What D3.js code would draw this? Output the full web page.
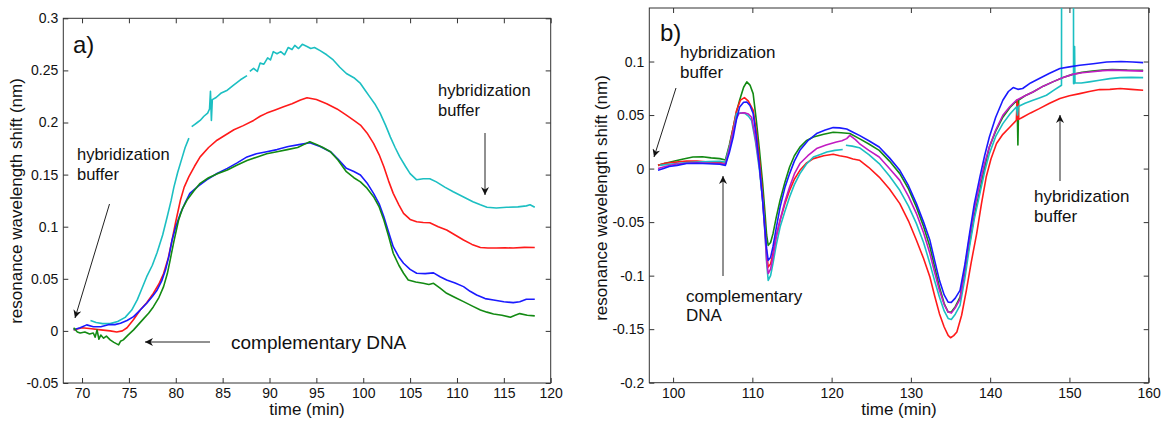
<!DOCTYPE html>
<html>
<head>
<meta charset="utf-8">
<script src="https://cdn.jsdelivr.net/npm/d3@7"></script>
<style>
	body { margin: 0; background: #fff; }
	text { font-family: "Liberation Sans", Arial, sans-serif; fill: #111; }
</style>
</head>
<body>
<script>

// ---- panel a) data: [time (min), shift (nm)], null = gap in trace
var aCyan = [[70.9,0.010],[71.5,0.008],[72.2,0.007],[73.0,0.007],[73.8,0.009],[74.6,0.013],[75.3,0.02],[75.9,0.030],[76.4,0.041],[76.9,0.052],[77.5,0.063],[78.0,0.075],[78.6,0.092],[79.1,0.110],[79.5,0.125],[79.8,0.138],[80.2,0.152],[80.7,0.167],[81.0,0.176],[81.4,0.185],[81.55,null],
	[81.7,0.196],[82.0,0.198],[82.3,0.200],[82.6,0.202],[83.0,0.206],[83.4,0.209],[83.6,0.213],[83.7,0.230],[83.8,0.202],[83.9,0.222],[84.3,0.224],[84.8,0.228],[85.5,0.231],[86.2,0.236],[86.9,0.241],[87.6,0.245],[87.7,null],
	[87.9,0.249],[88.3,0.252],[88.7,0.249],[89.0,0.257],[89.4,0.256],[89.8,0.262],[90.1,0.260],[90.4,0.268],[90.8,0.266],[91.2,0.268],[91.6,0.265],[92.0,0.272],[92.4,0.270],[92.7,0.274],[93.1,0.271],[93.5,0.275],[94.0,0.273],[94.4,0.271],[94.8,0.272],[95.4,0.269],[96.1,0.265],[96.8,0.260],[97.5,0.253],[98.2,0.247],[99.0,0.243],[99.7,0.2375],[100.2,0.231],[100.7,0.2246],[101.3,0.217],[101.8,0.209],[102.4,0.197],[102.9,0.186],[103.4,0.176],[103.9,0.167],[104.5,0.158],[105.0,0.151],[105.7,0.145],[106.4,0.146],[107.1,0.146],[107.8,0.143],[108.7,0.138],[109.6,0.1336],[110.6,0.129],[111.7,0.124],[112.5,0.121],[113.2,0.1186],[114.2,0.118],[115.3,0.1186],[116.5,0.119],[117.4,0.120],[117.8,0.121],[118.3,0.1186]];
var aRed = [[69.1,0.001],[70.0,0.003],[71.0,0.002],[72.0,0.001],[73.0,0.000],[73.7,-0.001],[74.3,0.000],[74.8,0.003],[75.5,0.011],[76.2,0.020],[76.9,0.027],[77.6,0.036],[78.2,0.045],[78.7,0.055],[79.2,0.070],[79.6,0.087],[80.0,0.105],[80.5,0.1256],[80.9,0.138],[81.4,0.148],[82.0,0.158],[82.6,0.167],[83.5,0.176],[84.4,0.183],[85.3,0.188],[86.2,0.193],[87.2,0.197],[88.3,0.202],[89.0,0.206],[89.7,0.209],[90.6,0.212],[91.5,0.215],[92.4,0.218],[93.3,0.2215],[94.0,0.2237],[95.0,0.222],[96.1,0.218],[97.2,0.213],[98.2,0.207],[99.0,0.202],[99.7,0.1975],[100.4,0.190],[101.1,0.180],[101.7,0.169],[102.2,0.1575],[102.7,0.144],[103.2,0.132],[103.8,0.121],[104.3,0.1128],[105.0,0.107],[105.7,0.1048],[106.4,0.104],[107.1,0.1038],[108.0,0.100],[108.9,0.0968],[109.8,0.092],[110.7,0.0872],[111.6,0.083],[112.5,0.080],[113.3,0.0795],[114.2,0.0795],[115.1,0.0798],[116.0,0.0795],[117.2,0.0802],[118.3,0.080]];
var aBlue = [[69.1,0.001],[69.8,0.003],[70.5,0.0058],[71.2,0.004],[72.0,0.004],[72.8,0.006],[73.5,0.006],[74.1,0.0074],[74.8,0.010],[75.5,0.0137],[76.2,0.020],[76.9,0.0266],[77.5,0.033],[78.0,0.039],[78.5,0.048],[78.9,0.0585],[79.3,0.073],[79.6,0.087],[80.0,0.100],[80.5,0.1128],[81.0,0.123],[81.5,0.132],[82.4,0.139],[83.3,0.145],[84.4,0.151],[85.5,0.156],[86.5,0.161],[87.6,0.167],[88.6,0.170],[89.7,0.172],[90.8,0.174],[92.0,0.177],[93.3,0.179],[94.3,0.1805],[95.4,0.177],[96.5,0.172],[97.3,0.165],[98.2,0.156],[99.0,0.153],[99.7,0.1496],[100.4,0.142],[101.1,0.132],[101.7,0.122],[102.2,0.1096],[102.7,0.095],[103.2,0.0808],[103.8,0.071],[104.3,0.0649],[105.0,0.059],[105.7,0.0553],[106.6,0.055],[107.5,0.0557],[108.2,0.052],[108.9,0.0489],[109.8,0.046],[110.7,0.0425],[111.4,0.038],[112.1,0.0345],[113.0,0.031],[113.9,0.0297],[115.0,0.028],[116.0,0.0271],[116.7,0.028],[117.4,0.0304],[118.3,0.0304]];
var aGreen = [[69.1,0.003],[69.5,-0.001],[69.8,-0.002],[70.3,-0.001],[70.8,-0.003],[71.2,-0.002],[71.4,-0.006],[71.6,0.001],[71.8,-0.008],[72.0,-0.004],[72.3,-0.007],[72.6,-0.005],[73.0,-0.0086],[73.4,-0.011],[73.9,-0.0134],[74.1,-0.010],[74.4,-0.0086],[74.9,-0.004],[75.5,0.001],[76.0,0.006],[76.6,0.012],[77.1,0.017],[77.6,0.023],[78.2,0.032],[78.7,0.0425],[79.1,0.055],[79.4,0.068],[79.8,0.086],[80.3,0.1064],[80.7,0.117],[81.2,0.1256],[81.9,0.134],[82.6,0.1416],[83.5,0.147],[84.5,0.151],[85.5,0.1545],[86.5,0.159],[87.6,0.1635],[88.7,0.167],[89.7,0.170],[90.8,0.172],[91.9,0.174],[93.0,0.176],[93.7,0.179],[94.3,0.1815],[95.0,0.179],[95.7,0.176],[96.5,0.172],[97.3,0.164],[98.2,0.1528],[99.0,0.147],[99.7,0.143],[100.4,0.137],[101.1,0.1288],[101.7,0.119],[102.2,0.1064],[102.7,0.091],[103.2,0.0745],[103.8,0.063],[104.3,0.0553],[104.8,0.0489],[105.6,0.047],[106.4,0.0457],[107.0,0.0445],[107.5,0.0457],[108.2,0.041],[108.9,0.0361],[109.8,0.032],[110.7,0.0281],[111.6,0.024],[112.5,0.0201],[113.2,0.018],[113.9,0.0163],[114.8,0.015],[115.7,0.0131],[116.2,0.015],[116.7,0.0166],[117.5,0.015],[118.3,0.0144]];

// ---- panel b) data
var bBlue = [[98.1,-0.0016],[98.8,0.000],[99.5,0.002],[100.5,0.003],[101.7,0.0047],[103.0,0.005],[104.5,0.0045],[105.9,0.0041],[106.6,0.003],[107.1,0.015],[107.6,0.030],[108.0,0.046],[108.4,0.0576],[108.9,0.062],[109.3,0.0622],[109.7,0.059],[110.1,0.0514],[110.5,0.030],[110.9,0.0015],[111.3,-0.030],[111.6,-0.0577],[111.8,-0.075],[112.0,-0.0857],[112.3,-0.083],[112.6,-0.073],[113.0,-0.056],[113.5,-0.036],[114.1,-0.018],[114.7,-0.0047],[115.3,0.007],[116.0,0.0171],[117.0,0.026],[118.1,0.0327],[119.2,0.036],[120.2,0.0383],[121.0,0.038],[121.9,0.037],[122.7,0.034],[123.5,0.031],[124.7,0.026],[126.0,0.0202],[127.3,0.010],[128.6,-0.0016],[129.7,-0.016],[130.7,-0.0327],[131.6,-0.050],[132.4,-0.067],[133.0,-0.086],[133.6,-0.1044],[134.2,-0.118],[134.7,-0.1247],[135.1,-0.125],[135.6,-0.121],[136.2,-0.1137],[136.8,-0.090],[137.4,-0.0607],[138.0,-0.033],[138.7,-0.0079],[139.3,0.012],[139.9,0.0295],[140.7,0.048],[141.6,0.0638],[142.3,0.072],[142.9,0.0757],[143.5,0.074],[144.1,0.0748],[145.1,0.080],[146.2,0.0841],[147.5,0.089],[148.8,0.0935],[150.0,0.095],[151.3,0.0965],[153.0,0.098],[154.7,0.0996],[156.5,0.100],[158.0,0.0995],[159.3,0.099]];
var bGreen = [[98.1,0.003],[99.0,0.005],[100.2,0.007],[101.3,0.009],[102.5,0.0108],[103.7,0.011],[104.8,0.010],[105.9,0.0093],[106.6,0.008],[107.1,0.022],[107.6,0.039],[108.0,0.053],[108.4,0.064],[108.9,0.076],[109.3,0.081],[109.7,0.078],[110.1,0.070],[110.5,0.045],[110.9,0.017],[111.3,-0.014],[111.6,-0.042],[111.8,-0.062],[112.0,-0.0717],[112.3,-0.069],[112.6,-0.061],[113.0,-0.046],[113.5,-0.0296],[114.1,-0.013],[114.7,0.0015],[115.3,0.012],[116.0,0.020],[116.8,0.026],[117.7,0.0295],[119.0,0.032],[120.2,0.034],[121.2,0.0335],[122.3,0.0327],[123.5,0.028],[124.7,0.023],[126.0,0.017],[127.3,0.007],[128.6,-0.0047],[129.7,-0.019],[130.7,-0.036],[131.6,-0.054],[132.4,-0.073],[133.0,-0.092],[133.6,-0.1107],[134.2,-0.126],[134.7,-0.134],[135.1,-0.134],[135.6,-0.129],[136.2,-0.12],[136.8,-0.097],[137.4,-0.070],[138.0,-0.044],[138.7,-0.0203],[139.3,0.001],[139.9,0.0202],[140.7,0.035],[141.6,0.048],[142.5,0.057],[143.4,0.0638],[143.5,0.022],[143.6,0.064],[144.4,0.068],[145.4,0.0716],[146.7,0.077],[147.9,0.081],[149.2,0.085],[150.4,0.088],[151.6,0.090],[152.9,0.0912],[154.2,0.092],[155.4,0.0925],[157.3,0.092],[159.3,0.0919]];
var bRed = [[98.1,0.003],[99.0,0.005],[100.4,0.006],[101.7,0.0071],[103.0,0.007],[104.5,0.006],[105.9,0.0056],[106.6,0.005],[107.1,0.020],[107.6,0.039],[108.0,0.054],[108.5,0.064],[109.0,0.0663],[109.5,0.063],[110.1,0.0545],[110.5,0.035],[110.9,0.0078],[111.3,-0.025],[111.6,-0.0546],[111.8,-0.078],[112.0,-0.092],[112.3,-0.089],[112.6,-0.0794],[113.0,-0.064],[113.5,-0.0483],[114.1,-0.033],[114.7,-0.0203],[115.3,-0.010],[116.0,-0.0016],[116.8,0.005],[117.7,0.0093],[119.0,0.012],[120.2,0.0134],[121.0,0.012],[121.9,0.0108],[122.7,0.009],[123.5,0.0078],[124.7,0.001],[126.0,-0.0079],[127.3,-0.019],[128.6,-0.0327],[129.7,-0.049],[130.7,-0.067],[131.6,-0.084],[132.4,-0.1013],[133.0,-0.119],[133.6,-0.1355],[134.2,-0.148],[134.7,-0.1558],[135.0,-0.158],[135.4,-0.156],[135.8,-0.1527],[136.4,-0.137],[137.0,-0.1137],[137.6,-0.088],[138.3,-0.0607],[138.9,-0.033],[139.5,-0.0079],[140.1,0.009],[140.8,0.0234],[141.6,0.032],[142.5,0.0389],[143.3,0.045],[143.4,0.064],[143.5,0.046],[143.55,0.060],[143.6,0.046],[144.1,0.048],[145.1,0.052],[146.2,0.056],[147.5,0.061],[148.8,0.0654],[150.0,0.068],[151.3,0.070],[152.5,0.072],[153.8,0.0738],[155.1,0.074],[156.4,0.0748],[157.8,0.074],[159.3,0.0732]];
var bCyan = [[98.3,0.003],[99.5,0.004],[100.8,0.005],[101.7,0.0056],[103.0,0.006],[104.5,0.0065],[105.9,0.0068],[106.6,0.006],[107.1,0.020],[107.6,0.035],[108.0,0.0514],[108.5,0.052],[109.1,0.0514],[109.5,0.049],[109.9,0.045],[110.4,0.025],[110.9,-0.0016],[111.3,-0.030],[111.6,-0.0607],[111.8,-0.088],[112.0,-0.1044],[112.3,-0.100],[112.6,-0.0888],[113.0,-0.072],[113.5,-0.0546],[114.1,-0.040],[114.7,-0.0265],[115.3,-0.015],[116.0,-0.0047],[116.8,0.004],[117.7,0.0108],[118.5,0.013],[119.4,0.0155],[120.4,0.017],[121.4,0.0178],[121.6,null],
	[121.8,0.0218],[122.6,0.021],[123.5,0.0195],[124.7,0.013],[126.0,0.0047],[127.3,-0.007],[128.6,-0.0203],[129.7,-0.035],[130.7,-0.0514],[131.6,-0.069],[132.4,-0.0888],[133.0,-0.105],[133.6,-0.12],[134.2,-0.133],[134.7,-0.140],[135.1,-0.141],[135.6,-0.136],[136.2,-0.1278],[136.8,-0.103],[137.4,-0.073],[138.0,-0.047],[138.7,-0.0234],[139.3,-0.003],[139.9,0.014],[140.7,0.030],[141.6,0.042],[142.5,0.051],[143.3,0.0576],[143.45,0.050],[143.55,0.058],[144.4,0.061],[145.4,0.0638],[146.2,0.066],[147.1,0.0685],[148.0,0.073],[149.0,0.0778],[149.02,0.3],[150.5,0.3],[150.52,0.0794],[150.6,0.0794],[150.65,0.114],[150.7,0.0800],[151.5,0.080],[152.5,0.081],[153.8,0.0825],[155.1,0.084],[156.4,0.085],[157.8,0.0852],[159.3,0.085]];
var bMagenta = [[98.1,0.000],[99.0,0.002],[100.2,0.004],[101.7,0.005],[103.0,0.0055],[104.5,0.005],[105.9,0.0047],[106.6,0.004],[107.1,0.018],[107.6,0.035],[108.0,0.047],[108.3,0.0514],[108.7,0.052],[109.1,0.052],[109.5,0.051],[109.9,0.048],[110.4,0.028],[110.9,0.0015],[111.3,-0.030],[111.6,-0.0607],[111.8,-0.085],[112.0,-0.098],[112.3,-0.094],[112.6,-0.0826],[113.0,-0.064],[113.5,-0.0483],[114.1,-0.031],[114.7,-0.0172],[115.3,-0.005],[116.0,0.0047],[117.0,0.012],[118.1,0.0187],[119.3,0.022],[120.6,0.0249],[121.3,0.026],[121.9,0.028],[122.3,0.031],[123.0,0.027],[123.5,0.0234],[124.7,0.017],[126.0,0.0108],[127.3,0.000],[128.6,-0.011],[129.7,-0.026],[130.7,-0.042],[131.6,-0.060],[132.4,-0.0794],[133.0,-0.097],[133.6,-0.1137],[134.2,-0.127],[134.7,-0.134],[135.1,-0.135],[135.6,-0.130],[136.2,-0.122],[136.8,-0.093],[137.4,-0.0638],[138.0,-0.038],[138.7,-0.0141],[139.3,0.005],[139.9,0.0202],[140.7,0.036],[141.6,0.0498],[142.5,0.058],[143.3,0.0638],[144.4,0.068],[145.4,0.0716],[146.7,0.077],[147.9,0.081],[149.2,0.085],[150.4,0.088],[151.6,0.0895],[152.9,0.0905],[154.2,0.0915],[155.4,0.092],[157.3,0.0915],[159.3,0.091]];

// ticks
var aXTicks = [70,75,80,85,90,95,100,105,110,115,120];
var aYTicks = [-0.05,0,0.05,0.1,0.15,0.2,0.25,0.3];
var bXTicks = [100,110,120,130,140,150,160];
var bYTicks = [-0.2,-0.15,-0.1,-0.05,0,0.05,0.1];

var CYAN = "#1cbfc2", RED = "#ff1a1a", BLUE = "#1a1aff", GREEN = "#138a13", MAGENTA = "#c21bc2";

var svg = d3.select("body").append("svg")
	.attr("width", 1167)
	.attr("height", 425);

var defs = svg.append("defs");
defs.append("marker")
	.attr("id", "arr")
	.attr("viewBox", "0 0 10 10")
	.attr("refX", 10).attr("refY", 5)
	.attr("markerWidth", 8).attr("markerHeight", 8)
	.attr("markerUnits", "userSpaceOnUse")
	.attr("orient", "auto")
	.append("path")
	.attr("d", "M0,0L10,5L0,10L3,5Z")
	.attr("fill", "#111");

function panel(opt){
	var x = d3.scaleLinear().domain(opt.xDomain).range(opt.xRange);
	var y = d3.scaleLinear().domain(opt.yDomain).range(opt.yRange);
	var g = svg.append("g");

	defs.append("clipPath").attr("id", opt.id + "clip")
		.append("rect")
		.attr("x", opt.xRange[0]).attr("y", opt.yRange[1])
		.attr("width", opt.xRange[1] - opt.xRange[0])
		.attr("height", opt.yRange[0] - opt.yRange[1]);

	var fmt = function(d){ return String(+d.toFixed(2)); };

	var bottom = g.append("g").attr("transform", "translate(0," + opt.yRange[0] + ")")
		.call(d3.axisBottom(x).tickValues(opt.xTicks).tickSizeInner(-5).tickSizeOuter(0).tickPadding(5).tickFormat(fmt));
	var top = g.append("g").attr("transform", "translate(0," + opt.yRange[1] + ")")
		.call(d3.axisTop(x).tickValues(opt.xTicks).tickSizeInner(-5).tickSizeOuter(0).tickFormat(""));
	var left = g.append("g").attr("transform", "translate(" + opt.xRange[0] + ",0)")
		.call(d3.axisLeft(y).tickValues(opt.yTicks).tickSizeInner(-5).tickSizeOuter(0).tickPadding(5).tickFormat(fmt));
	var right = g.append("g").attr("transform", "translate(" + opt.xRange[1] + ",0)")
		.call(d3.axisRight(y).tickValues(opt.yTicks).tickSizeInner(-5).tickSizeOuter(0).tickFormat(""));

	[bottom, top, left, right].forEach(function(a){
		a.select(".domain").remove();
		a.selectAll("line").attr("stroke", "#333");
		a.selectAll("text").attr("font-size", 14).attr("fill", "#111")
			.attr("font-family", "Liberation Sans, Arial, sans-serif");
	});

	g.append("rect")
		.attr("x", opt.xRange[0]).attr("y", opt.yRange[1])
		.attr("width", opt.xRange[1] - opt.xRange[0])
		.attr("height", opt.yRange[0] - opt.yRange[1])
		.attr("fill", "none").attr("stroke", "#333").attr("stroke-width", 1);

	var line = d3.line()
		.defined(function(d){ return d[1] !== null; })
		.x(function(d){ return x(d[0]); })
		.y(function(d){ return y(d[1]); });

	g.append("g").attr("clip-path", "url(#" + opt.id + "clip)")
		.selectAll("path").data(opt.series).enter().append("path")
		.attr("d", function(s){ return line(s.data); })
		.attr("fill", "none")
		.attr("stroke", function(s){ return s.color; })
		.attr("stroke-width", 1.6)
		.attr("stroke-linejoin", "round");

	var cx = (opt.xRange[0] + opt.xRange[1]) / 2;
	g.append("text").attr("x", cx).attr("y", 415)
		.attr("text-anchor", "middle").attr("font-size", 17)
		.text("time (min)");
	g.append("text")
		.attr("transform", "translate(" + opt.yLabelX + "," + opt.yLabelY + ") rotate(-90)")
		.attr("text-anchor", "middle").attr("font-size", 17)
		.text("resonance wavelength shift (nm)");

	g.append("text").attr("x", opt.tagX).attr("y", opt.tagY)
		.attr("font-size", 24).text(opt.tag);

	opt.notes.forEach(function(n){
		var t = g.append("text").attr("font-size", n.size);
		n.lines.forEach(function(s, i){
			t.append("tspan").attr("x", n.x).attr("y", n.y + i * n.lh).text(s);
		});
	});
	opt.arrows.forEach(function(a){
		g.append("line")
			.attr("x1", a[0]).attr("y1", a[1]).attr("x2", a[2]).attr("y2", a[3])
			.attr("stroke", "#222").attr("stroke-width", 1)
			.attr("marker-end", "url(#arr)");
	});
}

panel({
	id: "a",
	xDomain: [68, 120], xRange: [63.3, 550.7],
	yDomain: [-0.05, 0.3], yRange: [383, 18.3],
	xTicks: aXTicks, yTicks: aYTicks,
	yLabelX: 22, yLabelY: 201,
	tag: "a)", tagX: 73, tagY: 53,
	series: [
		{data: aCyan, color: CYAN},
		{data: aRed, color: RED},
		{data: aBlue, color: BLUE},
		{data: aGreen, color: GREEN}
	],
	notes: [
		{x: 77, y: 160, lh: 20, size: 16.5, lines: ["hybridization", "buffer"]},
		{x: 231, y: 349, lh: 0, size: 19, lines: ["complementary DNA"]},
		{x: 438, y: 96, lh: 19.5, size: 16.5, lines: ["hybridization", "buffer"]}
	],
	arrows: [
		[109.5, 204, 75, 318],
		[210, 342, 145, 342],
		[485, 133, 485, 195]
	]
});

panel({
	id: "b",
	xDomain: [97, 160], xRange: [649.3, 1148.7],
	yDomain: [-0.2, 0.15], yRange: [382.7, 8],
	xTicks: bXTicks, yTicks: bYTicks,
	yLabelX: 607, yLabelY: 198,
	tag: "b)", tagX: 660, tagY: 41,
	series: [
		{data: bGreen, color: GREEN},
		{data: bRed, color: RED},
		{data: bCyan, color: CYAN},
		{data: bMagenta, color: MAGENTA},
		{data: bBlue, color: BLUE}
	],
	notes: [
		{x: 680, y: 58, lh: 19.5, size: 17, lines: ["hybridization", "buffer"]},
		{x: 686, y: 302, lh: 19, size: 17, lines: ["complementary", "DNA"]},
		{x: 1034, y: 202, lh: 19.5, size: 17, lines: ["hybridization", "buffer"]}
	],
	arrows: [
		[676, 88, 654, 157],
		[723, 276, 723, 176],
		[1060, 181, 1060, 115]
	]
});

</script>
</body>
</html>
